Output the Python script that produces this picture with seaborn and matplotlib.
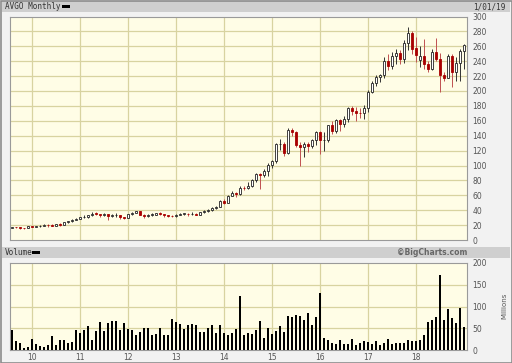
#!/usr/bin/env python3
# -*- coding: utf-8 -*-
"""
plot.py

Monthly candlestick chart with volume panel (BigCharts look)
"""

import matplotlib.pyplot as plt
from matplotlib.patches import Rectangle
import numpy as np
import pandas as pd
import seaborn as sns

# Monthly bars, Aug 2009 .. Jan 2019
open_px = [
    16.5, 17.4, 17.0, 15.8, 15.8,
    18.4, 17.8, 18.7, 18.8, 20.3, 19.6, 19.2, 21.4, 20.6, 23.7, 25.2, 27.0,
    28.5, 30.6, 31.0, 34.0, 35.8, 34.3, 33.0, 35.0, 32.6, 33.5, 33.8, 30.6,
    29.5, 34.4, 36.5, 38.9, 34.0, 32.0, 33.7, 34.2, 35.6, 34.6, 33.0, 32.5,
    31.8, 34.2, 35.2, 35.5, 34.6, 35.5, 33.8, 37.0, 38.8, 39.9, 43.5, 44.6,
    53.0, 50.0, 59.0, 63.0, 61.5, 70.0, 69.3, 72.5, 80.0, 88.5, 87.0, 93.0,
    100.6, 106.5, 128.5, 129.5, 117.0, 148.0, 145.5, 128.0, 125.5, 128.6, 126.0, 134.0,
    145.2, 133.7, 134.0, 154.5, 145.8, 161.5, 155.4, 162.0, 176.7, 172.5, 170.6, 170.5,
    176.8, 199.0, 211.0, 219.0, 221.0, 240.0, 233.0, 247.0, 251.0, 242.5, 264.0, 278.0,
    258.0, 242.0, 247.0, 236.0, 229.0, 252.0, 243.0, 222.0, 218.0, 247.0, 225.0, 237.0,
    254.0,
]
high_px = [
    17.8, 18.0, 17.5, 16.5, 18.6,
    19.0, 18.9, 19.5, 21.0, 21.3, 21.2, 21.5, 22.5, 24.6, 26.0, 27.9, 29.0,
    31.0, 33.0, 34.2, 37.5, 37.9, 35.0, 36.0, 35.5, 35.0, 36.5, 34.0, 31.5,
    34.5, 37.5, 39.2, 39.0, 35.5, 34.5, 36.5, 36.3, 37.5, 35.5, 34.0, 33.5,
    35.0, 35.7, 36.5, 36.0, 37.5, 36.0, 37.5, 39.8, 41.0, 44.5, 46.0, 53.5,
    54.8, 60.0, 65.5, 64.0, 72.0, 72.5, 78.0, 82.0, 90.0, 90.5, 95.0, 104.0,
    108.0, 130.0, 136.0, 131.0, 150.5, 150.0, 146.0, 131.0, 131.0, 132.0, 136.0, 146.0,
    146.0, 145.0, 155.0, 160.0, 163.0, 163.0, 166.0, 179.0, 180.0, 179.0, 177.0, 181.0,
    201.0, 214.0, 222.0, 223.0, 245.0, 249.0, 252.0, 257.0, 255.0, 268.0, 285.7, 281.0,
    273.0, 260.0, 270.0, 240.0, 256.0, 271.0, 251.0, 226.0, 250.0, 249.0, 245.0, 256.0,
    263.0,
]
low_px = [
    15.5, 16.0, 15.4, 15.0, 15.6,
    17.0, 16.8, 17.8, 18.2, 17.5, 18.5, 18.7, 19.0, 20.3, 22.5, 24.8, 26.5,
    27.8, 29.8, 29.5, 32.5, 33.5, 30.5, 32.5, 27.5, 30.5, 30.5, 28.0, 28.5,
    29.4, 33.5, 35.8, 33.0, 30.0, 30.5, 32.5, 33.5, 33.8, 31.5, 30.8, 30.5,
    31.5, 33.5, 34.2, 32.5, 33.8, 33.0, 33.6, 36.5, 37.5, 39.0, 41.8, 44.2,
    48.5, 49.5, 58.5, 57.5, 61.0, 66.5, 68.5, 71.5, 78.0, 69.0, 84.5, 86.0,
    97.0, 104.0, 121.0, 113.0, 115.0, 140.0, 125.0, 100.0, 112.0, 118.0, 124.0, 128.0,
    116.0, 120.0, 132.0, 142.0, 143.0, 146.0, 152.0, 158.0, 168.0, 160.0, 164.0, 162.0,
    172.0, 197.0, 207.0, 212.0, 218.0, 228.0, 230.0, 236.0, 236.0, 237.0, 255.0, 250.0,
    239.0, 232.0, 230.0, 226.0, 228.0, 240.0, 198.0, 214.0, 217.0, 206.0, 213.0, 214.0,
    230.0,
]
close_px = [
    17.2, 17.0, 15.8, 15.6, 18.3,
    17.8, 18.7, 18.8, 20.2, 19.6, 19.2, 21.3, 20.5, 23.7, 25.2, 27.0, 28.5,
    30.5, 31.0, 34.0, 35.5, 34.3, 33.0, 35.0, 32.6, 33.3, 33.8, 30.6, 29.5,
    34.3, 36.5, 38.9, 34.0, 32.0, 33.7, 34.2, 35.6, 34.6, 33.0, 32.5, 31.7,
    34.2, 35.2, 35.5, 34.6, 35.5, 33.8, 37.0, 38.8, 39.9, 43.5, 44.6, 53.0,
    50.0, 59.0, 63.0, 61.5, 70.0, 69.3, 72.5, 80.0, 88.5, 87.0, 93.0, 100.6,
    106.5, 128.5, 129.5, 117.0, 148.0, 145.5, 128.0, 125.5, 128.6, 126.0, 134.0, 145.2,
    133.7, 134.0, 154.5, 145.8, 161.5, 155.4, 162.0, 176.7, 172.5, 170.6, 170.5, 176.8,
    199.0, 211.0, 219.0, 221.0, 240.0, 233.0, 247.0, 251.0, 242.5, 264.0, 278.0, 257.0,
    248.0, 247.0, 236.0, 229.0, 252.0, 243.0, 222.0, 218.0, 247.0, 225.0, 237.0, 254.0,
    262.0,
]
# Volume in millions
volume = [
    46, 21, 15, 5, 6,
    26, 14, 9, 6, 12, 33, 12, 22, 22, 17, 18, 46,
    40, 45, 56, 23, 43, 65, 43, 61, 66, 66, 45, 63,
    48, 45, 35, 42, 50, 50, 35, 37, 50, 34, 34, 72,
    65, 60, 48, 57, 59, 57, 42, 42, 50, 57, 39, 57,
    39, 35, 40, 49, 125, 34, 40, 36, 46, 67, 27, 50,
    37, 44, 55, 42, 78, 75, 81, 79, 69, 85, 57, 76,
    131, 28, 23, 15, 13, 22, 14, 14, 25, 12, 17, 21,
    19, 14, 21, 12, 15, 25, 14, 17, 17, 16, 22, 21,
    21, 23, 34, 65, 69, 75, 173, 69, 94, 74, 63, 96,
    53,
]
year_labels = ["10", "11", "12", "13", "14", "15", "16", "17", "18"]

# Colours
BG = "#fffde6"
GRID = "#d8d3a0"
RED = "#a80000"
FRAME = "#9a9a9a"

months = pd.date_range("2009-08-01", periods=len(close_px), freq="MS")
df = pd.DataFrame(
    {"open": open_px, "high": high_px, "low": low_px, "close": close_px, "volume": volume},
    index=months,
)
df["pos"] = np.arange(len(df))
df["up"] = df["close"] >= df["open"]
jan_pos = df["pos"][df.index.month == 1].values[:len(year_labels)]

sns.set_style("white")
plt.rcParams["font.family"] = ["DejaVu Sans"]

fig = plt.figure(figsize=(5.12, 3.63), dpi=100, facecolor="#f2f2f2")
W, H = 512.0, 363.0

# header bars
fig.patches.append(Rectangle((2 / W, 1 - 12 / H), 508 / W, 11 / H, transform=fig.transFigure,
                             facecolor="#cfcfcf", edgecolor="none", zorder=0))
fig.patches.append(Rectangle((2 / W, 1 - 258 / H), 508 / W, 11 / H, transform=fig.transFigure,
                             facecolor="#cfcfcf", edgecolor="none", zorder=0))
fig.patches.append(Rectangle((0.5 / W, 0.5 / H), 511 / W, 362 / H, transform=fig.transFigure,
                             facecolor="none", edgecolor="#8c8c8c", linewidth=1.2, zorder=0))
fig.patches.append(Rectangle((62 / W, 1 - 7.5 / H), 8 / W, 3 / H, transform=fig.transFigure,
                             facecolor="black", edgecolor="none"))
fig.patches.append(Rectangle((32 / W, 1 - 253.5 / H), 8 / W, 3 / H, transform=fig.transFigure,
                             facecolor="black", edgecolor="none"))

fig.text(5 / W, 1 - 6.5 / H, "AVGO Monthly", fontsize=5.5, family="DejaVu Sans Mono",
         color="#333333", va="center", ha="left")
fig.text(506 / W, 1 - 6.5 / H, "1/01/19", fontsize=5.5, family="DejaVu Sans Mono",
         color="#333333", va="center", ha="right")
fig.text(5 / W, 1 - 252.5 / H, "Volume", fontsize=5.5, family="DejaVu Sans Mono",
         color="#333333", va="center", ha="left")
fig.text(467 / W, 1 - 252.5 / H, "©BigCharts.com", fontsize=5.5, fontweight="bold",
         color="#666666", va="center", ha="right")
fig.text(504 / W, 1 - 306 / H, "Millions", fontsize=5, rotation=90, color="#555555",
         va="center", ha="center")

ax = fig.add_axes([10 / W, 1 - 240 / H, 457 / W, 223.5 / H])
axv = fig.add_axes([10 / W, 1 - 350 / H, 457 / W, 87 / H])

for a in (ax, axv):
    a.set_facecolor(BG)
    for s in a.spines.values():
        s.set_color(FRAME)
        s.set_linewidth(0.8)
    for p in jan_pos:
        a.axvline(p, color=GRID, linewidth=0.9, zorder=0)
    a.yaxis.tick_right()
    a.tick_params(axis="both", length=0, labelsize=5.5, labelcolor="#555555", pad=4)

# price panel
for v in range(20, 300, 20):
    ax.axhline(v, color=GRID, linewidth=0.9, zorder=0)

wick_col = np.where(df["up"], "#333333", "#c05050")
ax.vlines(df["pos"], df["low"], df["high"], colors=wick_col, linewidth=0.7, zorder=2)
body_bottom = np.minimum(df["open"], df["close"])
body_height = np.maximum(np.abs(df["close"] - df["open"]), 0.6)
up = df["up"].values
ax.bar(df["pos"][up], body_height[up], bottom=body_bottom[up], width=0.72,
       facecolor="white", edgecolor="#222222", linewidth=0.6, zorder=3)
ax.bar(df["pos"][~up], body_height[~up], bottom=body_bottom[~up], width=0.72,
       facecolor=RED, edgecolor=RED, linewidth=0.6, zorder=3)

ax.set_xlim(-0.5, 113.75)
ax.set_ylim(0, 300)
ax.set_yticks(range(0, 301, 20))
ax.set_xticks([])

# volume panel
for v in (50, 100, 150):
    axv.axhline(v, color=GRID, linewidth=0.9, zorder=0)
sns.barplot(data=df, x="pos", y="volume", native_scale=True, width=0.4,
            color="black", saturation=1, linewidth=0, errorbar=None, ax=axv, zorder=3)
axv.set_xlim(-0.5, 113.75)
axv.set_ylim(0, 200)
axv.set_yticks([0, 50, 100, 150, 200])
axv.set_xticks(jan_pos)
axv.set_xticklabels(year_labels)
axv.tick_params(axis="x", pad=2)
axv.set_xlabel("")
axv.set_ylabel("")

fig.savefig("out.png", dpi=100, facecolor=fig.get_facecolor())
